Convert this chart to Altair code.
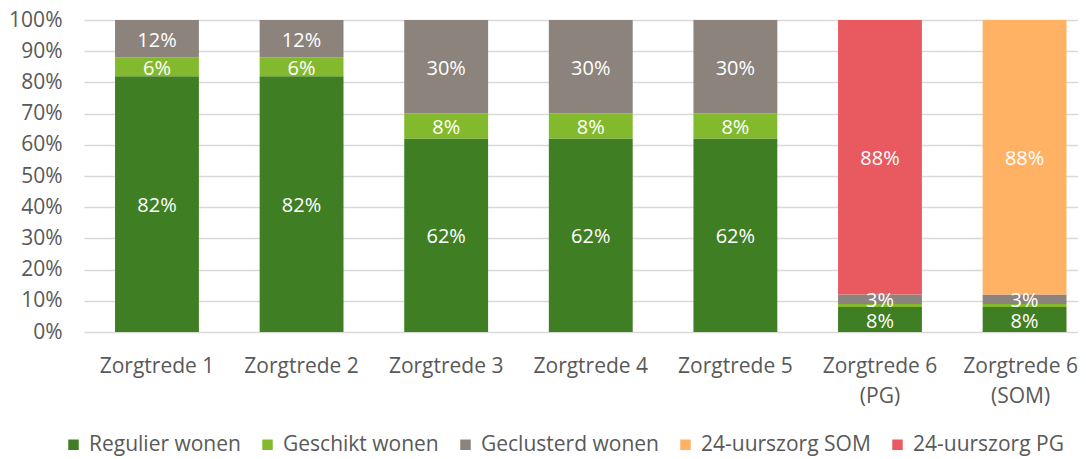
import altair as alt
import pandas as pd

categories = ["Zorgtrede 1", "Zorgtrede 2", "Zorgtrede 3", "Zorgtrede 4",
              "Zorgtrede 5", "Zorgtrede 6 (PG)", "Zorgtrede 6 (SOM)"]
series = ["Regulier wonen", "Geschikt wonen", "Geclusterd wonen",
          "24-uurszorg SOM", "24-uurszorg PG"]
regulier = [82, 82, 62, 62, 62, 8, 8]
geschikt = [6, 6, 8, 8, 8, 1, 1]
geclusterd = [12, 12, 30, 30, 30, 3, 3]
som24 = [0, 0, 0, 0, 0, 0, 88]
pg24 = [0, 0, 0, 0, 0, 88, 0]
y_ticks = [0, 10, 20, 30, 40, 50, 60, 70, 80, 90, 100]
colors = ["#3F7E23", "#83BA2D", "#8B837C", "#FFB264", "#E85A60"]

# stacking order from bottom: regulier, geschikt, geclusterd, PG, SOM
stack_rank = {"Regulier wonen": 0, "Geschikt wonen": 1, "Geclusterd wonen": 2,
              "24-uurszorg PG": 3, "24-uurszorg SOM": 4}
values = {"Regulier wonen": regulier, "Geschikt wonen": geschikt,
          "Geclusterd wonen": geclusterd, "24-uurszorg SOM": som24,
          "24-uurszorg PG": pg24}

rows = []
for s in series:
    for c, v in zip(categories, values[s]):
        rows.append({"cat": c, "series": s, "value": v,
                     "pct": v, "rank": stack_rank[s]})
df = pd.DataFrame(rows)

FONT = "Open Sans"
GRAY = "#595959"
FS = 21

label_expr = "split(replace(datum.label, ' (', '|('), '|')"

x = alt.X("cat:N", sort=categories, title=None,
          scale=alt.Scale(paddingInner=0.42, paddingOuter=0.147, align=0.73),
          axis=alt.Axis(labelAngle=0, labelFont=FONT, labelFontSize=FS,
                        labelColor=GRAY, domain=False, ticks=False,
                        labelOffset={"condition": {"test": "datum.value == 'Zorgtrede 6 (SOM)'",
                                                   "value": -4},
                                     "value": 0},
                        labelPadding=23, labelLineHeight=30, labelExpr=label_expr))

yscale = alt.Scale(domain=[0, 100], nice=False)
yaxis = alt.Axis(values=y_ticks, labelExpr="datum.value + '%'",
                 labelFont=FONT, labelFontSize=FS, labelColor=GRAY,
                 labelOverlap=False, title=None,
                 domain=False, ticks=False, labelPadding=22,
                 gridColor="#D9D9D9", gridWidth=1.5)

base = alt.Chart(df).transform_stack(
    stack="value", groupby=["cat"], as_=["y0", "y1"],
    sort=[alt.SortField("rank", order="ascending")]
).transform_calculate(mid="(datum.y0 + datum.y1) / 2")

bars = base.mark_bar().encode(
    x=x,
    y=alt.Y("y0:Q", title=None, scale=yscale, axis=yaxis),
    y2="y1:Q",
    color=alt.Color("series:N",
                    scale=alt.Scale(domain=series, range=colors),
                    legend=alt.Legend(orient="none", legendX=-21, legendY=414,
                                      direction="horizontal", title=None,
                                      symbolType="square", symbolSize=110,
                                      symbolStrokeWidth=0, labelFont=FONT,
                                      labelFontSize=FS, labelColor=GRAY,
                                      labelOffset=5, columnPadding=16,
                                      labelLimit=400, columns=5)),
)

texts = base.transform_filter("datum.pct >= 2").transform_calculate(
    label="datum.pct + '%'"
).mark_text(
    color="white", font=FONT, fontSize=20, baseline="middle", align="center",
    dy=2
).encode(
    x=x,
    y=alt.Y("mid:Q", title=None, scale=yscale, axis=yaxis),
    text=alt.Text("label:N"),
)

chart = alt.layer(bars, texts).properties(
    width=994, height=312,
    autosize=alt.AutoSizeParams(type="none"),
    padding={"left": 76, "top": 12, "right": 0, "bottom": 126},
).configure_view(stroke=None)

chart.save("out.html", embed_options={"renderer": "svg", "actions": False})
